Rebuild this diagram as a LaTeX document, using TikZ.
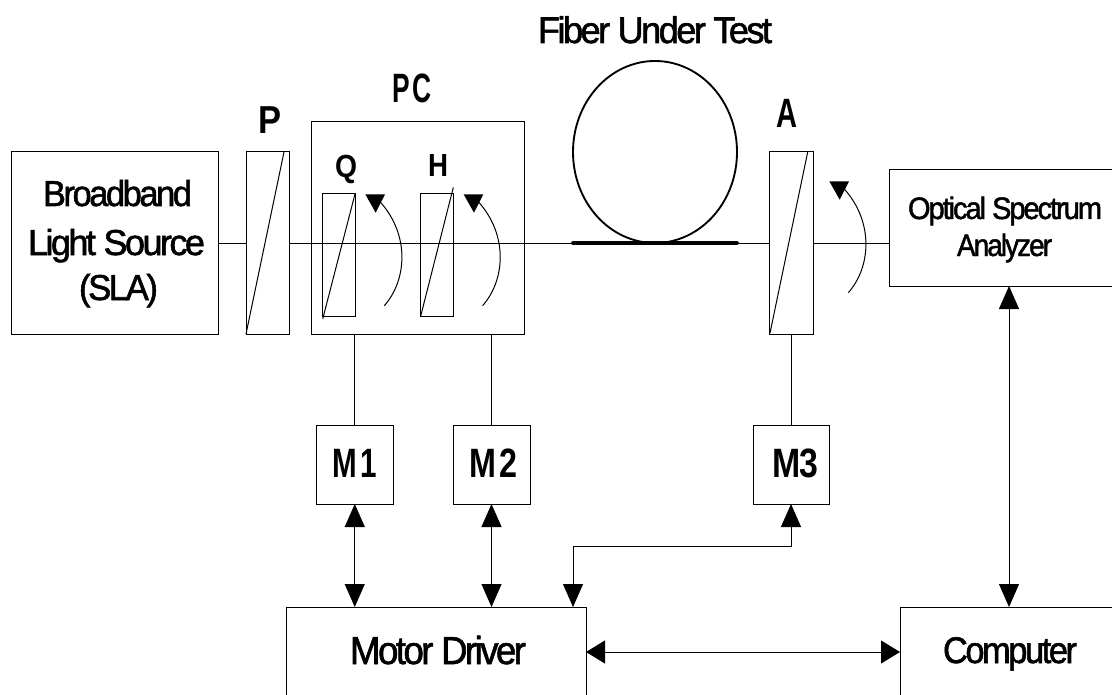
\documentclass[tikz,border=0pt]{standalone}
\usepackage{fontspec}
\usepackage{graphicx}
\usetikzlibrary{fit,arrows.meta}
\newfontfamily\labelfont[LetterSpace=-7,FakeBold=1.6]{Liberation Sans}
\newfontfamily\headfont[LetterSpace=-3]{Liberation Sans Bold}
% \tx{width px}{font size px}{text}: real text set to a given width
\newcommand\tx[3]{{\fontsize{\the\dimexpr #2pt*3/4\relax}{\the\dimexpr #2pt*3/4\relax}\labelfont\resizebox{\dimexpr #1pt*3/4\relax}{\height}{#3}}}
\newcommand\hx[3]{{\fontsize{\the\dimexpr #2pt*3/4\relax}{\the\dimexpr #2pt*3/4\relax}\headfont\resizebox{\dimexpr #1pt*3/4\relax}{\height}{#3}}}
\tikzset{
  unit/.style={draw=black,line width=0.75pt,inner sep=0pt,outer sep=0pt},
  lbl/.style={inner sep=0pt,outer sep=0pt,anchor=base west,text=black},
  wire/.style={draw=black,line width=0.75pt},
  vboth/.style={wire,{Triangle[width=15pt,length=17.25pt]}-{Triangle[width=15pt,length=17.25pt]}},
  hboth/.style={wire,{Triangle[width=17.25pt,length=14.25pt]}-{Triangle[width=17.25pt,length=14.25pt]}},
  rot/.style={draw=black,line width=0.75pt},
  rothead/.style={fill=black},
}
\begin{document}
\begin{tikzpicture}[x=0.75pt,y=-0.75pt]
\useasboundingbox (0,0) rectangle (1112,695);
\clip (0,0) rectangle (1112,695);
% boxes
\node[unit,fit={(11,152)(218,334)}] (src) {};
\node[unit,fit={(246,152)(289,334)}] (pol) {};
\node[unit,fit={(311,122)(524,334)}] (pc) {};
\node[unit,fit={(322,194)(355,316)}] (qwp) {};
\node[unit,fit={(420,194)(453,316)}] (hwp) {};
\node[unit,fit={(769.5,152)(813,334)}] (ana) {};
\node[unit,fit={(889,170)(1129,286)}] (osa) {};
\node[unit,fit={(316.5,425)(393,504)}] (mone) {};
\node[unit,fit={(453,425)(530,504)}] (mtwo) {};
\node[unit,fit={(753,425)(829,504)}] (mthree) {};
\node[unit,fit={(286,607)(586,697)}] (drv) {};
\node[unit,fit={(900,607)(1118,697)}] (comp) {};
% labels
\node[lbl] (tfiber) at (538,43) {\tx{234}{37}{Fiber Under Test}};
\node[lbl] (tpc) at (392,103) {\hx{40}{41}{P\kern4pt C}};
\node[lbl] (tp) at (258,134) {\hx{23}{39}{P}};
\node[lbl] (ta) at (776,128) {\hx{21}{41}{A}};
\node[lbl] (tq) at (335,178) {\hx{22}{32}{Q}};
\node[lbl] (th) at (428,177) {\hx{20}{32}{H}};
\node[lbl] (ts1) at (43,206) {\tx{149}{36}{Broadband}};
\node[lbl] (ts2) at (28,255) {\tx{177}{36}{Light Source}};
\node[lbl] (ts3) at (79,300) {\tx{79}{36}{(SLA)}};
\node[lbl] (to1) at (908,219) {\tx{194}{31}{Optical Spectrum}};
\node[lbl] (to2) at (957,256) {\tx{95}{31}{Analyzer}};
\node[lbl] (tm1) at (332.5,477) {\hx{44}{41}{M\kern3pt 1}};
\node[lbl] (tm2) at (469,477) {\hx{48}{41}{M\kern3pt 2}};
\node[lbl] (tm3) at (772,477) {\hx{46}{41}{M3}};
\node[lbl] (tdrv) at (350,664) {\tx{176}{39}{Motor Driver}};
\node[lbl] (tcomp) at (943,663) {\tx{134}{37}{Computer}};
% optical path
\draw[wire] (src.east) -- (pol.west);
\draw[wire] (pol.east) -- (ana.west);
\coordinate (osain) at (osa.west |- ana.east);
\draw[wire] (ana.east) -- (osain);
% fibre
\coordinate (floop) at (655,243);
\coordinate (fl) at (573,243);
\coordinate (fr) at (737,243);
\draw[line width=1.4pt] (655,152) ellipse [x radius=82,y radius=91];
\draw[line width=2.8pt,line cap=round] (fl) -- (fr);
% wedge diagonals
\coordinate (pa) at (246,334); \coordinate (pb) at (284,152);
\draw[wire] (pa) -- (pb);
\coordinate (qa) at (322.7,319); \coordinate (qb) at (355,194);
\draw[wire] (qa) -- (qb);
\coordinate (ha) at (420.7,316); \coordinate (hb) at (453.3,187.5);
\draw[wire] (ha) -- (hb);
\coordinate (aa) at (770,333); \coordinate (ab) at (807.7,152);
\draw[wire] (aa) -- (ab);
% rotation arrows
\foreach \dx/\dy in {0/0,98.3/0,464/-13}{
  \begin{scope}[shift={(\dx,\dy)}]
    \draw[rot] (384.3,305.7) .. controls (407,280) and (410,235) .. (380,201.7);
    \fill[rothead] (365.3,194.3) -- (385,194.3) -- (375.7,212.7) -- cycle;
  \end{scope}
}
% drive stems
\draw[wire] (mone.north) -- (mone.north |- pc.south);
\draw[wire] (mtwo.north) -- (mtwo.north |- pc.south);
\draw[wire] (mthree.north) -- (mthree.north |- ana.south);
% control links
\draw[vboth] (mone.south) -- (mone.south |- drv.north);
\draw[vboth] (mtwo.south) -- (mtwo.south |- drv.north);
\coordinate (bend) at (573,546);
\coordinate (drvin) at (573,607);
\draw[vboth] (mthree.south) -- (mthree.south |- bend) -- (bend) -- (drvin);
\draw[hboth] (drv.east) -- (comp.west);
\draw[vboth] (osa.south) -- (comp.north);
\end{tikzpicture}
\end{document}
